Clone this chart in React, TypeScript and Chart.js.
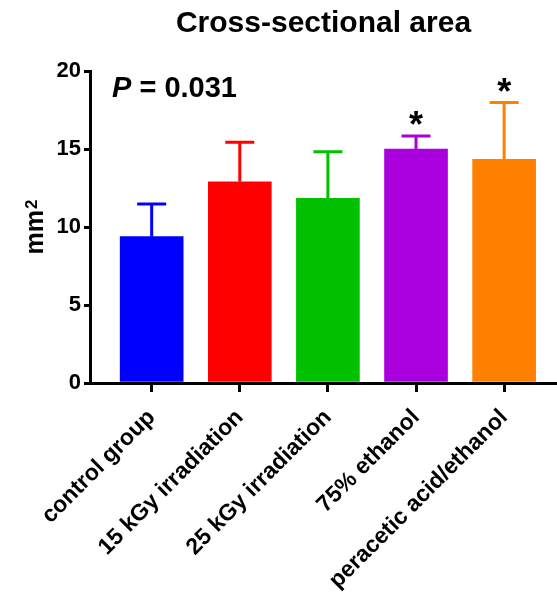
import React, { useEffect, useRef } from 'react';
import { Chart, registerables } from 'chart.js';

Chart.register(...registerables);

const categories = ['control group', '15 kGy irradiation', '25 kGy irradiation', '75% ethanol', 'peracetic acid/ethanol'];
const means = [9.38, 12.9, 11.84, 14.99, 14.33];
const sds = [2.09, 2.54, 2.98, 0.85, 3.65];
const colors = ['#0000FF', '#FF0000', '#00C000', '#AA00DD', '#FF8000'];
const significance = ['', '', '', '*', '*'];
const yTicks = [0, 5, 10, 15, 20];
const titleText = 'Cross-sectional area';
const yAxisUnit = 'mm';
const yAxisSup = '2';
const pLetter = 'P';
const pValueText = ' = 0.031';

const FONT = '"Liberation Sans", Arial, Helvetica, sans-serif';

const annotPlugin = {
  id: 'annot',
  afterDatasetsDraw(chart: any) {
    const { ctx, chartArea } = chart;
    const x = chart.scales.x;
    const y = chart.scales.y;
    ctx.save();
    means.forEach((m, i) => {
      const cx = x.getPixelForValue(i);
      const y0 = y.getPixelForValue(m);
      const y1 = y.getPixelForValue(m + sds[i]);
      ctx.strokeStyle = colors[i];
      ctx.lineWidth = 3;
      ctx.lineCap = 'butt';
      ctx.beginPath();
      ctx.moveTo(cx, y0);
      ctx.lineTo(cx, y1);
      ctx.moveTo(cx - 14.5, y1);
      ctx.lineTo(cx + 14.5, y1);
      ctx.stroke();
      if (significance[i]) {
        ctx.fillStyle = '#000';
        ctx.font = `bold 36px ${FONT}`;
        ctx.textAlign = 'center';
        ctx.textBaseline = 'alphabetic';
        ctx.fillText(significance[i], cx, y1 + 1);
      }
    });
    // P value
    ctx.fillStyle = '#000';
    ctx.textAlign = 'left';
    ctx.textBaseline = 'alphabetic';
    const px = chartArea.left + 22;
    const py = chartArea.top + 26;
    ctx.font = `italic bold 29px ${FONT}`;
    ctx.fillText(pLetter, px, py);
    const w = ctx.measureText(pLetter).width;
    ctx.font = `bold 29px ${FONT}`;
    ctx.fillText(pValueText, px + w, py);
    // y-axis title with superscript
    const cy = (chartArea.top + chartArea.bottom) / 2;
    ctx.translate(43, cy);
    ctx.rotate(-Math.PI / 2);
    ctx.font = `bold 25px ${FONT}`;
    const mw = ctx.measureText(yAxisUnit).width;
    ctx.font = `bold 17px ${FONT}`;
    const sw = ctx.measureText(yAxisSup).width;
    const total = mw + sw + 1;
    ctx.font = `bold 25px ${FONT}`;
    ctx.fillText(yAxisUnit, -total / 2, 0);
    ctx.font = `bold 17px ${FONT}`;
    ctx.fillText(yAxisSup, -total / 2 + mw + 1, -6);
    ctx.restore();
  },
};

export default function App() {
  const ref = useRef<HTMLCanvasElement | null>(null);
  useEffect(() => {
    if (!ref.current) return;
    const chart = new Chart(ref.current, {
      type: 'bar',
      data: {
        datasets: [
          {
            data: means.map((v, i) => ({ x: i, y: v })),
            backgroundColor: colors,
            borderWidth: 0,
            barThickness: 63,
          },
        ],
      },
      options: {
        responsive: false,
        animation: false,
        layout: { padding: 0 },
        plugins: {
          legend: { display: false },
          tooltip: { enabled: false },
          title: {
            display: true,
            text: titleText,
            fullSize: false,
            color: '#000',
            font: { family: FONT, size: 30, weight: 'bold' },
            padding: { top: 6, bottom: 29 },
          },
        },
        scales: {
          x: {
            type: 'linear',
            min: -0.7,
            max: 4.6,
            offset: false,
            afterBuildTicks: (scale: any) => {
              scale.ticks = categories.map((_, i) => ({ value: i }));
            },
            afterFit: (scale: any) => {
              scale.height = 213;
            },
            grid: {
              display: true,
              drawOnChartArea: false,
              drawTicks: true,
              tickLength: 9,
              lineWidth: 3,
              color: '#000',
              offset: false,
            },
            border: { display: true, color: '#000', width: 3 },
            ticks: {
              autoSkip: false,
              minRotation: 45,
              maxRotation: 45,
              padding: 12,
              color: '#000',
              font: { family: FONT, size: 23, weight: 'bold' },
              callback: (v: any) => categories[v as number] ?? '',
            },
          },
          y: {
            type: 'linear',
            min: 0,
            max: 20,
            afterBuildTicks: (scale: any) => {
              scale.ticks = yTicks.map((v) => ({ value: v }));
            },
            afterFit: (scale: any) => {
              scale.width = 90;
            },
            grid: {
              display: true,
              drawOnChartArea: false,
              drawTicks: true,
              tickLength: 6,
              lineWidth: 3,
              color: '#000',
            },
            border: { display: true, color: '#000', width: 3 },
            ticks: {
              padding: 3,
              color: '#000',
              font: { family: FONT, size: 22, weight: 'bold' },
            },
          },
        },
      },
      plugins: [annotPlugin],
    } as any);
    return () => chart.destroy();
  }, []);
  return (
    <div style={{ position: 'absolute', left: 0, top: 0, width: 557, height: 596, background: '#fff' }}>
      <canvas ref={ref} width={557} height={596} style={{ display: 'block' }} />
    </div>
  );
}
